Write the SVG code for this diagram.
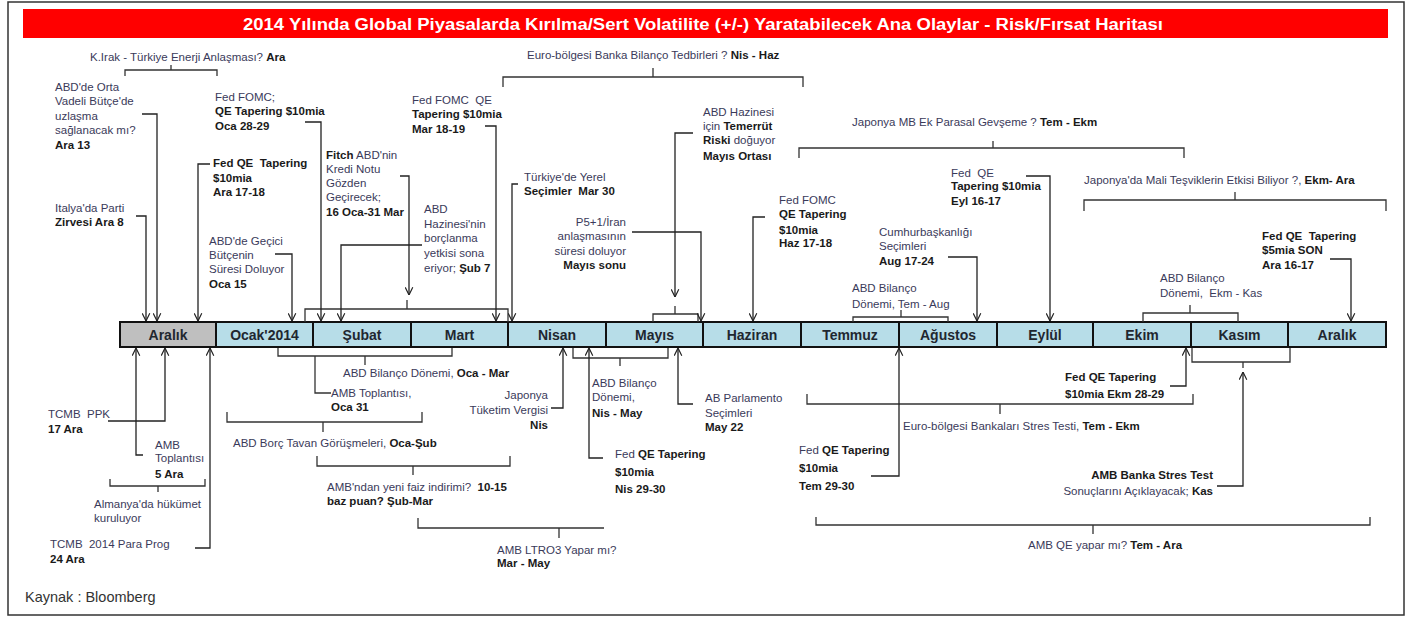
<svg xmlns="http://www.w3.org/2000/svg" width="1410" height="617" viewBox="0 0 1410 617">
<style>
.t{font-family:"Liberation Sans",Arial,sans-serif;font-size:11.5px;fill:#3a3a5a;white-space:pre}
.b{font-weight:bold;fill:#1a1a1a}
.e{text-anchor:end}
.ln{fill:none;stroke:#333;stroke-width:1.3}
.ar{fill:none;stroke:#222;stroke-width:1.3;marker-end:url(#ah)}
.m{font-family:"Liberation Sans",Arial,sans-serif;font-size:14px;font-weight:bold;fill:#1f2730;text-anchor:middle}
.cell{fill:#b7dde8;stroke:#111;stroke-width:2}
.gray{fill:#bfbfbf}
</style>
<defs>
<marker id="ah" viewBox="0 0 10 10" refX="9.5" refY="5" markerWidth="9" markerHeight="9" markerUnits="userSpaceOnUse" orient="auto">
<path d="M1,0.8 L9.5,5 L1,9.2" fill="none" stroke="#222" stroke-width="1.3"/>
</marker>
</defs>
<rect x="8" y="2" width="1396" height="613" fill="#fff" stroke="#333" stroke-width="1.5"/>
<g id="title">
<rect x="23" y="9" width="1365" height="29" fill="#ff0000"/>
<text x="703" y="30" text-anchor="middle" textLength="920" lengthAdjust="spacingAndGlyphs" style="font-family:'Liberation Sans',Arial,sans-serif;font-size:16px;font-weight:bold;fill:#fff">2014 Yılında Global Piyasalarda Kırılma/Sert Volatilite (+/-) Yaratabilecek Ana Olaylar - Risk/Fırsat Haritası</text>
</g>
<g id="timeline">
<rect class="cell gray" x="120" y="322" width="96" height="25"/>
<rect class="cell" x="216" y="322" width="97" height="25"/>
<rect class="cell" x="313" y="322" width="98" height="25"/>
<rect class="cell" x="411" y="322" width="97" height="25"/>
<rect class="cell" x="508" y="322" width="98" height="25"/>
<rect class="cell" x="606" y="322" width="97" height="25"/>
<rect class="cell" x="703" y="322" width="98" height="25"/>
<rect class="cell" x="801" y="322" width="98" height="25"/>
<rect class="cell" x="899" y="322" width="98" height="25"/>
<rect class="cell" x="997" y="322" width="96" height="25"/>
<rect class="cell" x="1093" y="322" width="98" height="25"/>
<rect class="cell" x="1191" y="322" width="97" height="25"/>
<rect class="cell" x="1288" y="322" width="98" height="25"/>
<text class="m" x="168" y="340">Aralık</text>
<text class="m" x="264.5" y="340">Ocak'2014</text>
<text class="m" x="362" y="340">Şubat</text>
<text class="m" x="459.5" y="340">Mart</text>
<text class="m" x="557" y="340">Nisan</text>
<text class="m" x="654.5" y="340">Mayıs</text>
<text class="m" x="752" y="340">Haziran</text>
<text class="m" x="850" y="340">Temmuz</text>
<text class="m" x="948" y="340">Ağustos</text>
<text class="m" x="1045" y="340">Eylül</text>
<text class="m" x="1142" y="340">Ekim</text>
<text class="m" x="1239.5" y="340">Kasım</text>
<text class="m" x="1337" y="340">Aralık</text>
</g>

<g id="n-kirak">
<text class="t" x="90" y="61">K.Irak - Türkiye Enerji Anlaşması? <tspan class="b">Ara</tspan></text>
<path class="ln" d="M125,76 V70 H217 V76 M171,70 V65"/>
</g>
<g id="n-abd-orta">
<text class="t"><tspan x="55" y="91">ABD'de Orta</tspan><tspan x="55" y="105">Vadeli Bütçe'de</tspan><tspan x="55" y="120">uzlaşma</tspan><tspan x="55" y="134">sağlanacak mı?</tspan><tspan x="55" y="149" class="b">Ara 13</tspan></text>
</g>
<g id="n-italya">
<text class="t"><tspan x="55" y="212">Italya'da Parti</tspan><tspan x="55" y="226" class="b">Zirvesi Ara 8</tspan></text>
</g>
<g id="n-fomc-oca">
<text class="t"><tspan x="215" y="101">Fed FOMC;</tspan><tspan x="215" y="115" class="b">QE Tapering $10mia</tspan><tspan x="215" y="130" class="b">Oca 28-29</tspan></text>
</g>
<g id="n-fedqe-ara">
<text class="t b"><tspan x="213" y="167">Fed QE  Tapering</tspan><tspan x="213" y="182">$10mia</tspan><tspan x="213" y="196">Ara 17-18</tspan></text>
</g>
<g id="n-gecici">
<text class="t"><tspan x="209" y="245">ABD'de Geçici</tspan><tspan x="209" y="259">Bütçenin</tspan><tspan x="209" y="273">Süresi Doluyor</tspan><tspan x="209" y="288" class="b">Oca 15</tspan></text>
</g>
<g id="n-fitch">
<text class="t"><tspan x="326" y="159"><tspan class="b">Fitch</tspan> ABD'nin</tspan><tspan x="326" y="173">Kredi Notu</tspan><tspan x="326" y="187">Gözden</tspan><tspan x="326" y="201">Geçirecek;</tspan><tspan x="326" y="216" class="b">16 Oca-31 Mar</tspan></text>
<path class="ln" d="M305,322 V309 H508 V322 M407,309 V300"/>
</g>
<g id="n-hazine-borc">
<text class="t"><tspan x="424" y="213">ABD</tspan><tspan x="424" y="228">Hazinesi'nin</tspan><tspan x="424" y="242">borçlanma</tspan><tspan x="424" y="257">yetkisi sona</tspan><tspan x="424" y="272">eriyor; <tspan class="b">Şub 7</tspan></tspan></text>
</g>
<g id="n-fomc-mar">
<text class="t"><tspan x="412" y="104">Fed FOMC  QE</tspan><tspan x="412" y="118" class="b">Tapering $10mia</tspan><tspan x="412" y="133" class="b">Mar 18-19</tspan></text>
</g>
<g id="n-euro-bilanco">
<text class="t" x="527" y="59">Euro-bölgesi Banka Bilanço Tedbirleri ? <tspan class="b">Nis - Haz</tspan></text>
<path class="ln" d="M503,87 V77 H803 V87 M653,77 V68"/>
</g>
<g id="n-yerel">
<text class="t"><tspan x="524" y="181">Türkiye'de Yerel</tspan><tspan x="524" y="195" class="b">Seçimler  Mar 30</tspan></text>
</g>
<g id="n-temerrut">
<text class="t"><tspan x="703" y="116">ABD Hazinesi</tspan><tspan x="703" y="130">için <tspan class="b">Temerrüt</tspan></tspan><tspan x="703" y="144"><tspan class="b">Riski</tspan> doğuyor</tspan><tspan x="703" y="160" class="b">Mayıs Ortası</tspan></text>
<path class="ln" d="M653,322 V314 H698 V322 M675,314 V306"/>
</g>
<g id="n-iran">
<text class="t e"><tspan x="626" y="226">P5+1/İran</tspan><tspan x="626" y="240">anlaşmasının</tspan><tspan x="626" y="255">süresi doluyor</tspan><tspan x="626" y="269" class="b">Mayıs sonu</tspan></text>
</g>
<g id="n-japonya-mb">
<text class="t" x="852" y="126">Japonya MB Ek Parasal Gevşeme ? <tspan class="b">Tem - Ekm</tspan></text>
<path class="ln" d="M799,158 V148 H1184 V158 M993,148 V141"/>
</g>
<g id="n-fomc-haz">
<text class="t"><tspan x="779" y="204">Fed FOMC</tspan><tspan x="779" y="218" class="b">QE Tapering</tspan><tspan x="779" y="234" class="b">$10mia</tspan><tspan x="779" y="247" class="b">Haz 17-18</tspan></text>
</g>
<g id="n-fedqe-eyl">
<text class="t"><tspan x="951" y="177">Fed  QE</tspan><tspan x="951" y="190" class="b">Tapering $10mia</tspan><tspan x="951" y="205" class="b">Eyl 16-17</tspan></text>
</g>
<g id="n-cumhur">
<text class="t"><tspan x="879" y="236">Cumhurbaşkanlığı</tspan><tspan x="879" y="250">Seçimleri</tspan><tspan x="879" y="265" class="b">Aug 17-24</tspan></text>
</g>
<g id="n-bilanco-temaug">
<text class="t"><tspan x="852" y="292">ABD Bilanço</tspan><tspan x="852" y="308">Dönemi, Tem - Aug</tspan></text>
<path class="ln" d="M853,322 V317 H948 V322 M901,317 V310"/>
</g>
<g id="n-japonya-mali">
<text class="t" x="1084" y="184">Japonya'da Mali Teşviklerin Etkisi Biliyor ?, <tspan class="b">Ekm- Ara</tspan></text>
<path class="ln" d="M1084,211 V200 H1386 V211 M1235,200 V192"/>
</g>
<g id="n-fedqe-son">
<text class="t b"><tspan x="1262" y="240">Fed QE  Tapering</tspan><tspan x="1262" y="254">$5mia SON</tspan><tspan x="1262" y="269">Ara 16-17</tspan></text>
</g>
<g id="n-bilanco-ekmkas">
<text class="t"><tspan x="1160" y="282">ABD Bilanço</tspan><tspan x="1160" y="297">Dönemi,  Ekm - Kas</tspan></text>
<path class="ln" d="M1143,322 V313 H1238 V322 M1190,313 V305"/>
</g>

<g id="n-bilanco-ocamar">
<text class="t" x="343" y="377">ABD Bilanço Dönemi, <tspan class="b">Oca - Mar</tspan></text>
<path class="ln" d="M278,348 V356 H452 V348 M365,356 V365"/>
</g>
<g id="n-amb-oca31">
<text class="t"><tspan x="331" y="397">AMB Toplantısı,</tspan><tspan x="331" y="411" class="b">Oca 31</tspan></text>
</g>
<g id="n-borc-tavan">
<text class="t" x="233" y="447">ABD Borç Tavan Görüşmeleri, <tspan class="b">Oca-Şub</tspan></text>
<path class="ln" d="M227,412 V422 H422 V412 M323,422 V432"/>
</g>
<g id="n-amb-faiz">
<text class="t"><tspan x="327" y="491">AMB'ndan yeni faiz indirimi?  <tspan class="b">10-15</tspan></tspan><tspan x="327" y="505" class="b">baz puan? Şub-Mar</tspan></text>
<path class="ln" d="M317,456 V466 H510 V456 M413,466 V475"/>
</g>
<g id="n-ltro">
<text class="t"><tspan x="497" y="554">AMB LTRO3 Yapar mı?</tspan><tspan x="497" y="567" class="b">Mar - May</tspan></text>
<path class="ln" d="M418,518 V528 H604 M559,528 V538"/>
</g>
<g id="n-tuketim">
<text class="t e"><tspan x="548" y="399">Japonya</tspan><tspan x="548" y="414">Tüketim Vergisi</tspan><tspan x="548" y="429" class="b">Nis</tspan></text>
</g>
<g id="n-bilanco-nismay">
<text class="t"><tspan x="592" y="387">ABD Bilanço</tspan><tspan x="592" y="401">Dönemi,</tspan><tspan x="592" y="417" class="b">Nis - May</tspan></text>
<path class="ln" d="M573,348 V358 H668 V348 M620,358 V366"/>
</g>
<g id="n-fedqe-nis">
<text class="t"><tspan x="615" y="458">Fed <tspan class="b">QE Tapering</tspan></tspan><tspan x="615" y="476" class="b">$10mia</tspan><tspan x="615" y="493" class="b">Nis 29-30</tspan></text>
</g>
<g id="n-ab-parlamento">
<text class="t"><tspan x="705" y="402">AB Parlamento</tspan><tspan x="705" y="417">Seçimleri</tspan><tspan x="705" y="431" class="b">May 22</tspan></text>
</g>
<g id="n-stres-testi">
<text class="t" x="903" y="430">Euro-bölgesi Bankaları Stres Testi, <tspan class="b">Tem - Ekm</tspan></text>
<path class="ln" d="M807,394 V404 H1193 V394 M1000,404 V414"/>
</g>
<g id="n-fedqe-tem">
<text class="t"><tspan x="799" y="454">Fed <tspan class="b">QE Tapering</tspan></tspan><tspan x="799" y="472" class="b">$10mia</tspan><tspan x="799" y="490" class="b">Tem 29-30</tspan></text>
</g>
<g id="n-fedqe-ekm">
<text class="t b"><tspan x="1065" y="381">Fed QE Tapering</tspan><tspan x="1065" y="398">$10mia Ekm 28-29</tspan></text>
</g>
<g id="n-amb-stres">
<text class="t e"><tspan x="1213" y="479" class="b">AMB Banka Stres Test</tspan><tspan x="1213" y="495">Sonuçlarını Açıklayacak; <tspan class="b">Kas</tspan></tspan></text>
<path class="ln" d="M1192,348 V362 H1290 V348 M1243,362 V368"/>
</g>
<g id="n-amb-qe">
<text class="t" x="1028" y="549">AMB QE yapar mı? <tspan class="b">Tem - Ara</tspan></text>
<path class="ln" d="M816,517 V525 H1370 V517 M1093,525 V534"/>
</g>
<g id="n-tcmb-ppk">
<text class="t"><tspan x="48" y="418">TCMB  PPK</tspan><tspan x="48" y="433" class="b">17 Ara</tspan></text>
</g>
<g id="n-amb-5ara">
<text class="t"><tspan x="155" y="449">AMB</tspan><tspan x="155" y="462">Toplantısı</tspan><tspan x="155" y="478" class="b">5 Ara</tspan></text>
</g>
<g id="n-almanya">
<text class="t"><tspan x="94" y="508">Almanya'da hükümet</tspan><tspan x="94" y="522">kuruluyor</tspan></text>
<path class="ln" d="M110,479 V486 H205 V479 M158,486 V492"/>
</g>
<g id="n-tcmb-2014">
<text class="t"><tspan x="50" y="548">TCMB  2014 Para Prog</tspan><tspan x="50" y="563" class="b">24 Ara</tspan></text>
</g>
<g id="source">
<text x="25" y="602" style="font-family:'Liberation Sans',Arial,sans-serif;font-size:14.5px;fill:#333">Kaynak : Bloomberg</text>
</g>

<g id="connectors">
<path class="ar" d="M142,114 H157 V321"/>
<path class="ar" d="M136,216 H146 V321"/>
<path class="ar" d="M210,164 H198 V321"/>
<path class="ar" d="M305,122 H321 V321"/>
<path class="ar" d="M275,254 H292 V321"/>
<path class="ar" d="M422,245 H341 V321"/>
<path class="ar" d="M400,176 H409 V295"/>
<path class="ar" d="M485,126 H496 V321"/>
<path class="ar" d="M518,184 H512 V321"/>
<path class="ar" d="M693,133 H675 V297"/>
<path class="ar" d="M632,232 H701 V321"/>
<path class="ar" d="M765,217 H753 V321"/>
<path class="ar" d="M1026,176 H1050 V321"/>
<path class="ar" d="M948,257 H977 V321"/>
<path class="ar" d="M1330,259 H1351 V321"/>
<path class="ar" d="M108,421 H165 V348"/>
<path class="ar" d="M143,455 H136 V348"/>
<path class="ar" d="M195,548 H210 V348"/>
<path class="ln" d="M331,393 H315 V356"/>
<path class="ar" d="M551,408 H563 V348"/>
<path class="ar" d="M603,458 H589 V348"/>
<path class="ar" d="M693,404 H678 V348"/>
<path class="ar" d="M871,476 H899 V348"/>
<path class="ar" d="M1170,386 H1186 V348"/>
<path class="ar" d="M1217,486 H1243 V372"/>
</g>
</svg>
